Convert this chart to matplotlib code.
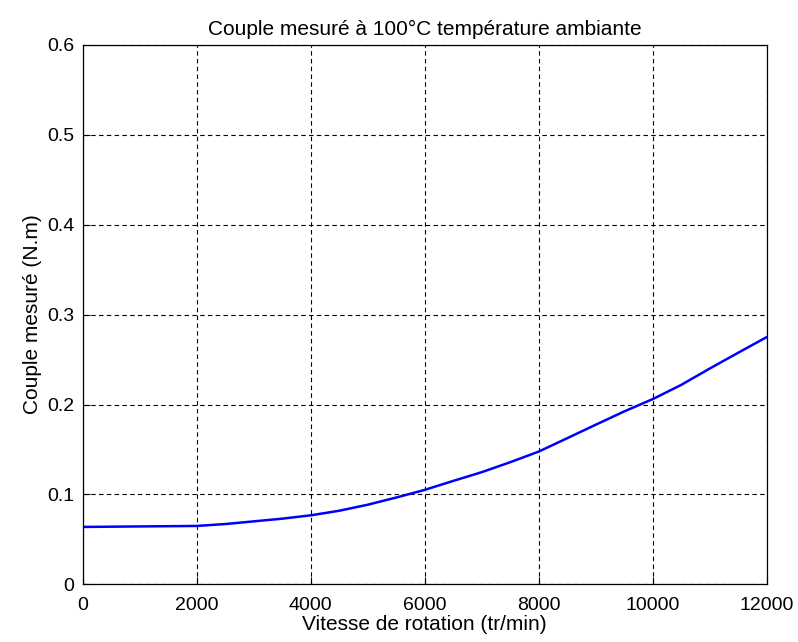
import matplotlib
matplotlib.use("Agg")
import matplotlib.pyplot as plt

speed = [0, 2000, 2500, 3000, 3500, 4000, 4500, 5000, 5500, 6000, 6500, 7000,
         7500, 8000, 8500, 9000, 9500, 10000, 10500, 11000, 11500, 12000]
torque = [0.0638, 0.0649, 0.067, 0.070, 0.073, 0.0767, 0.0818, 0.0885, 0.0965, 0.105,
          0.115, 0.1247, 0.1358, 0.1476, 0.1625, 0.1775, 0.1923, 0.206, 0.2218, 0.240,
          0.2576, 0.275]
xticks = [0, 2000, 4000, 6000, 8000, 10000, 12000]
yticks = [0, 0.1, 0.2, 0.3, 0.4, 0.5, 0.6]

plt.rcParams['font.family'] = ['Liberation Sans', 'DejaVu Sans']

fig = plt.figure(figsize=(7.98, 6.42), dpi=100)
ax = fig.add_axes([0.1036, 0.0899, 0.9608 - 0.1036, 0.930 - 0.0899])
ax.plot(speed, torque, color='#0000ff', linewidth=1.8)
ax.set_xlim(0, 12000)
ax.set_ylim(0, 0.6)
ax.set_xticks(xticks)
ax.set_xticklabels([str(v) for v in xticks])
ax.set_yticks(yticks)
ax.set_yticklabels(['0', '0.1', '0.2', '0.3', '0.4', '0.5', '0.6'])
ax.grid(True, color='black', linestyle=(0, (4, 3)), linewidth=0.8)
ax.tick_params(direction='in', length=5, labelsize=14, top=False, right=False)
ax.tick_params(axis='x', pad=9)
ax.tick_params(axis='y', pad=6)
for s in ax.spines.values():
    s.set_linewidth(0.9)
ax.set_xlabel('Vitesse de rotation (tr/min)', fontsize=15, labelpad=1)
ax.set_ylabel('Couple mesuré (N.m)', fontsize=15, labelpad=4)
ax.set_title('Couple mesuré à 100°C température ambiante', fontsize=15, pad=7)
fig.savefig('out.png', dpi=100)
